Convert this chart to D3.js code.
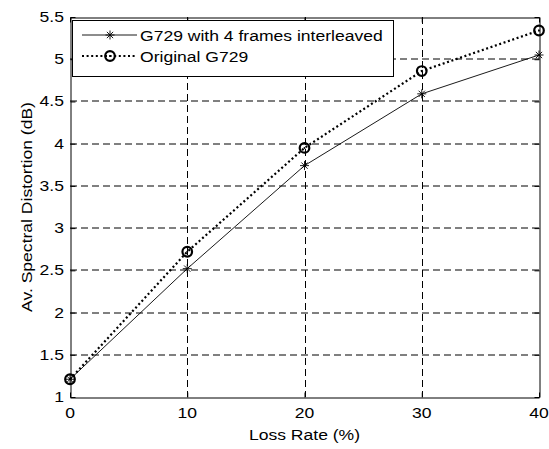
<!DOCTYPE html>
<html><head><meta charset="utf-8">
<script src="https://cdn.jsdelivr.net/npm/d3@7"></script>
<style>body{margin:0;background:#fff}svg{display:block}text{font-family:Arial,"Liberation Sans",sans-serif;fill:#000}</style>
</head><body><svg id="c" width="549" height="449"></svg>
<script>
const lossRates = [0, 10, 20, 30, 40];
const interleaved = [1.21, 2.52, 3.74, 4.59, 5.05];
const original = [1.21, 2.72, 3.95, 4.86, 5.34];
const xTicks = [0, 10, 20, 30, 40];
const yTicks = [1, 1.5, 2, 2.5, 3, 3.5, 4, 4.5, 5, 5.5];
const seriesNames = ["G729 with 4 frames interleaved", "Original G729"];

const FS = 15, SX = 1.17;
const svg = d3.select("#c");
const L = 70, R = 539, T = 17, B = 397;
const x = d3.scaleLinear().domain([0, 40]).range([L, R]);
const y = d3.scaleLinear().domain([1, 5.5]).range([B, T]);
const px = v => Math.round(v) + 0.5;

function label(sel, tx, ty, str, anchor, rot) {
  return sel.append("text")
    .attr("transform", `translate(${tx},${ty})` + (rot ? ` rotate(${rot})` : "") + ` scale(${SX},1)`)
    .attr("text-anchor", anchor).style("font-size", FS + "px").text(str);
}

// grid
const g = svg.append("g");
g.selectAll(".gx").data(xTicks.slice(1, -1)).join("line")
  .attr("x1", d => px(x(d))).attr("x2", d => px(x(d))).attr("y1", T).attr("y2", B)
  .attr("stroke", "#000").attr("stroke-width", 1).attr("stroke-dasharray", "7,4");
g.selectAll(".gy").data(yTicks.slice(1, -1)).join("line")
  .attr("y1", d => Math.round(y(d))).attr("y2", d => Math.round(y(d))).attr("x1", L).attr("x2", R)
  .attr("stroke", "#000").attr("stroke-width", 1).attr("stroke-dasharray", "7,4");

// axes
const xa = svg.append("g").attr("transform", `translate(0,${px(B)})`)
  .call(d3.axisBottom(x).tickValues(xTicks).tickSizeInner(-5).tickSizeOuter(0).tickFormat(""));
const xt = svg.append("g").attr("transform", `translate(0,${px(T)})`)
  .call(d3.axisTop(x).tickValues(xTicks).tickSizeInner(-5).tickSizeOuter(0).tickFormat(""));
const ya = svg.append("g").attr("transform", `translate(${px(L)},0)`)
  .call(d3.axisLeft(y).tickValues(yTicks).tickSizeInner(-5).tickSizeOuter(0).tickFormat(""));
const yr = svg.append("g").attr("transform", `translate(${px(R)},0)`)
  .call(d3.axisRight(y).tickValues(yTicks).tickSizeInner(-5).tickSizeOuter(0).tickFormat(""));
[xa, xt, ya, yr].forEach(a => {
  a.selectAll("path.domain").attr("stroke", "#000").attr("stroke-width", 1);
  a.selectAll("line").attr("stroke", "#000");
});
xTicks.forEach(d => label(svg, x(d), B + 21, String(d), "middle"));
yTicks.forEach(d => label(svg, L - 6, y(d) + 5, String(d), "end"));

// series
const line = d3.line().x((d, i) => x(lossRates[i])).y(d => y(d));
svg.append("path").datum(interleaved).attr("d", line)
  .attr("fill", "none").attr("stroke", "#000").attr("stroke-width", 0.9);
svg.append("path").datum(original).attr("d", line)
  .attr("fill", "none").attr("stroke", "#000").attr("stroke-width", 2.2).attr("stroke-dasharray", "2,2.6");

function star(sel, cx, cy) {
  const s = 4.5;
  const gg = sel.append("g").attr("transform", `translate(${cx},${cy})`).attr("stroke", "#000").attr("stroke-width", 0.9);
  gg.append("line").attr("x1", -s).attr("x2", s).attr("y1", 0).attr("y2", 0);
  gg.append("line").attr("x1", 0).attr("x2", 0).attr("y1", -s).attr("y2", s);
  gg.append("line").attr("x1", -s*0.7).attr("x2", s*0.7).attr("y1", -s*0.7).attr("y2", s*0.7);
  gg.append("line").attr("x1", -s*0.7).attr("x2", s*0.7).attr("y1", s*0.7).attr("y2", -s*0.7);
}
function circ(sel, cx, cy) {
  sel.append("circle").attr("cx", cx).attr("cy", cy).attr("r", 4.8)
    .attr("fill", "none").attr("stroke", "#000").attr("stroke-width", 2.2);
  sel.append("circle").attr("cx", cx).attr("cy", cy).attr("r", 1).attr("fill", "#000");
}
interleaved.forEach((v, i) => star(svg, x(lossRates[i]), y(v)));
original.forEach((v, i) => circ(svg, x(lossRates[i]), y(v)));

// legend
const lg = svg.append("g");
lg.append("rect").attr("x", 72.5).attr("y", 20.5).attr("width", 321).attr("height", 56)
  .attr("fill", "#fff").attr("stroke", "#000").attr("stroke-width", 1);
const rows = [35, 56];
lg.append("line").attr("x1", 82).attr("x2", 137).attr("y1", rows[0]).attr("y2", rows[0])
  .attr("stroke", "#000").attr("stroke-width", 0.9);
star(lg, 110, rows[0]);
lg.append("line").attr("x1", 82).attr("x2", 137).attr("y1", rows[1]).attr("y2", rows[1])
  .attr("stroke", "#000").attr("stroke-width", 2.2).attr("stroke-dasharray", "2,2.6");
circ(lg, 110, rows[1]);
seriesNames.forEach((n, i) => label(lg, 140, rows[i] + 5.5, n, "start"));

// axis labels
label(svg, (L + R) / 2, 440, "Loss Rate (%)", "middle");
label(svg, 32, (T + B) / 2, "Av. Spectral Distortion (dB)", "middle", -90);
</script></body></html>
